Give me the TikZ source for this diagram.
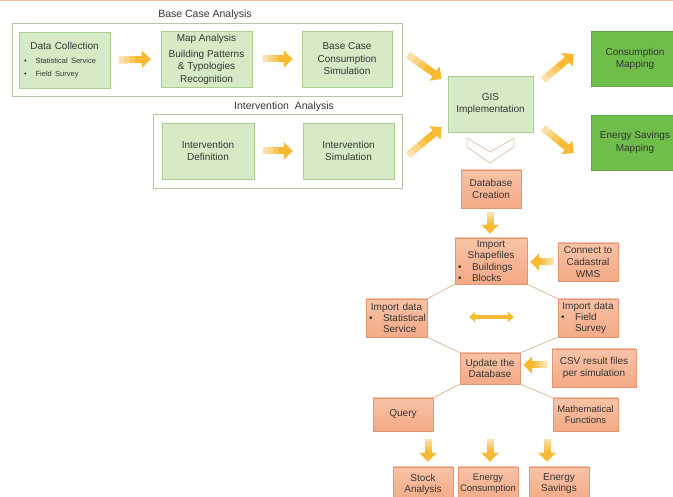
\documentclass[tikz,border=0pt]{standalone}
\usepackage{fontspec}
\setmainfont{Liberation Sans}
\usetikzlibrary{arrows.meta,calc}

\definecolor{txt}{HTML}{363636}
\definecolor{greenfill}{HTML}{D6EAC6}
\definecolor{greenline}{HTML}{A9D08E}
\definecolor{darkfill}{HTML}{6FBE4B}
\definecolor{darkline}{HTML}{5FA83E}
\definecolor{orangetop}{HTML}{F8C3A6}
\definecolor{orangebot}{HTML}{F3A986}
\definecolor{orangeline}{HTML}{E59573}
\definecolor{groupline}{HTML}{B3C7A3}
\definecolor{arrowcol}{HTML}{F8B933}
\definecolor{linkcol}{HTML}{DDBB9C}
\definecolor{chevcol}{HTML}{E5C6AD}
\definecolor{topline}{HTML}{F6C4A3}

\newcommand{\bitem}[1]{\makebox[\hsize][l]{\textbullet\hspace{10.5pt}#1}}
\newcommand{\bcont}[1]{\makebox[\hsize][l]{\hspace{14pt}#1}}
% block arrow, paler towards its tail
\newcommand{\flowarrow}[2]{%
  \path #1 coordinate (fa-s) #2 coordinate (fa-e);
  \draw[blockarrow] (fa-s) -- (fa-e);
  \foreach \t/\o in {0.5/0.2,0.33/0.25,0.16/0.3}
    \draw[draw=white,line width=7pt,opacity=\o] (fa-s) -- ($(fa-s)!\t!(fa-e)$);}

\begin{document}
\begin{tikzpicture}[x=1pt,y=-1pt,
    >/.tip={Triangle[length=9pt,width=17pt]},
    every node/.style={font=\fontsize{10}{12.5}\selectfont,text=txt,align=center},
    titletext/.style={font=\fontsize{10.5}{12}\selectfont},
    greenbox/.style={draw=greenline,fill=greenfill,minimum width=91pt,minimum height=56pt,inner sep=2pt},
    darkbox/.style={draw=darkline,fill=darkfill,minimum width=88pt,minimum height=55pt},
    orangebox/.style={draw=orangeline,top color=orangetop,bottom color=orangebot,
      minimum width=60pt,minimum height=38pt,inner xsep=3pt,inner ysep=1pt,
      font=\fontsize{10}{11.5}\selectfont},
    groupbox/.style={draw=groupline,line width=0.8pt},
    blockarrow/.style={->,draw=arrowcol,line width=7pt},
    dblarrow/.style={{Triangle[length=6pt,width=10pt]}-{Triangle[length=6pt,width=10pt]},
      draw=arrowcol,line width=4pt},
    linkline/.style={draw=linkcol,line width=0.8pt}]
    \useasboundingbox (0,0) rectangle (673,497);
    \fill[topline] (0,0) rectangle (673,1.5);
    % Base case analysis
    \draw[groupbox] (12,23) rectangle (402,96);
    \node[titletext] (basetitle) at (205,15) {Base Case Analysis};
    \node[greenbox,text width=85pt] (dc) at (64.5,60) {Data Collection\\[4pt]
      \fontsize{7.5}{10}\selectfont
      \makebox[\hsize][l]{\hspace{2pt}\textbullet\hspace{9pt}Statistical Service}\\
      \makebox[\hsize][l]{\hspace{2pt}\textbullet\hspace{9pt}Field Survey}};
    \node[greenbox] (ma) at (206.5,59) {Map Analysis\\[3.5pt]Building Patterns\\\& Typologies\\Recognition};
    \node[greenbox,minimum width=90pt] (bcs) at (347,59) {Base Case\\Consumption\\Simulation};
    % Intervention analysis
    \draw[groupbox] (153,114) rectangle (402,188);
    \node[titletext] (inttitle) at (284,107) {Intervention\ \ Analysis};
    \node[greenbox,minimum width=92pt] (idef) at (208,151) {Intervention\\Definition};
    \node[greenbox] (isim) at (348.5,151) {Intervention\\Simulation};
    % GIS and mapping
    \node[greenbox,minimum width=85pt] (gis) at (490.5,104) {GIS\\Implementation};
    \node[darkbox] (cm) at (635,59) {Consumption\\Mapping};
    \node[darkbox] (esm) at (635,142.5) {Energy Savings\\Mapping};
    \draw[chevcol,line width=0.8pt] (467,138) -- (490,152) -- (514,138) -- (514,147)
      -- (490,163) -- (467,147) -- cycle;
    % Database
    \node[orangebox,inner ysep=2pt] (dbc) at (491,189) {Database\\Creation};
    \node[orangebox,text width=66pt,minimum height=46pt,font=\fontsize{10}{11.3}\selectfont] (is) at (491,261)
      {Import\\Shapefiles\\\bitem{Buildings}\\\bitem{Blocks}};
    \node[orangebox,font=\fontsize{10}{12}\selectfont] (cc) at (588,262) {Connect to\\Cadastral\\WMS};
    \node[orangebox,text width=55pt,font=\fontsize{10}{11}\selectfont] (ids) at (396.5,318)
      {Import data\\\bitem{Statistical}\\\bcont{Service}};
    \node[orangebox,text width=54pt,font=\fontsize{10}{11}\selectfont] (idf) at (588,318)
      {Import data\\\bitem{Field}\\\bcont{Survey}};
    \node[orangebox,minimum height=31pt] (ud) at (490,368.5) {Update the\\Database};
    \node[orangebox,minimum width=84pt,font=\fontsize{10}{12}\selectfont] (csv) at (594,368) {CSV result files\\per simulation};
    \node[orangebox,minimum height=33pt] (q) at (403,414.5) {Query};
    \node[orangebox,minimum width=65pt,minimum height=33pt,font=\fontsize{9.5}{11}\selectfont] (mf) at (585.5,414.5)
      {Mathematical\\Functions};
    \node[orangebox,minimum height=34pt,font=\fontsize{10}{11}\selectfont] (sa) at (423,484) {Stock\\Analysis};
    \node[orangebox,minimum height=34pt,inner xsep=1pt,font=\fontsize{9.5}{11}\selectfont] (ec) at (488,484) {Energy\\Consumption};
    \node[orangebox,minimum height=34pt,font=\fontsize{10}{11}\selectfont] (es) at (559,484) {Energy\\Savings};
    % Links round the database
    \draw[linkline] (is.south west) -- (ids.north east);
    \draw[linkline] (is.south east) -- (idf.north west);
    \draw[linkline] (ids.south east) -- (ud.north west);
    \draw[linkline] (idf.south west) -- (ud.north east);
    \draw[linkline] (ud.south west) -- (q.north east);
    \draw[linkline] (ud.south east) -- (mf.north west);
    % Block arrows
    \flowarrow{($(dc.east)+(9,0)$)}{($(ma.west)+(-10,0)$)}
    \flowarrow{($(ma.east)+(11,0)$)}{($(bcs.west)+(-9,0)$)}
    \flowarrow{($(idef.east)+(9,0)$)}{($(isim.west)+(-10,0)$)}
    \flowarrow{($(bcs.east)+(16,-4)$)}{($(gis.north west)+(-6,3)$)}
    \flowarrow{($(isim.east)+(14,4)$)}{($(gis.south west)+(-6,-5)$)}
    \flowarrow{($(gis.north east)+(10,4)$)}{($(cm.west)+(-17,-5)$)}
    \flowarrow{($(gis.south east)+(10,-4)$)}{($(esm.west)+(-17,10.5)$)}
    \flowarrow{($(dbc.south)+(-1,4)$)}{($(is.north)+(-1,-4)$)}
    \flowarrow{($(cc.west)+(-4,0)$)}{($(is.east)+(3,1)$)}
    \flowarrow{($(csv.west)+(-5,-3)$)}{($(ud.east)+(3,-3.5)$)}
    \flowarrow{($(sa.north)+(5,-28)$)}{($(sa.north)+(5,-5)$)}
    \flowarrow{($(ec.north)+(2,-28)$)}{($(ec.north)+(2,-5)$)}
    \flowarrow{($(es.north)+(-12,-28)$)}{($(es.north)+(-12,-5)$)}
    \draw[dblarrow] ($(ids.east)+(42,-1)$) -- ($(idf.west)+(-44,-1)$);
\end{tikzpicture}
\end{document}
